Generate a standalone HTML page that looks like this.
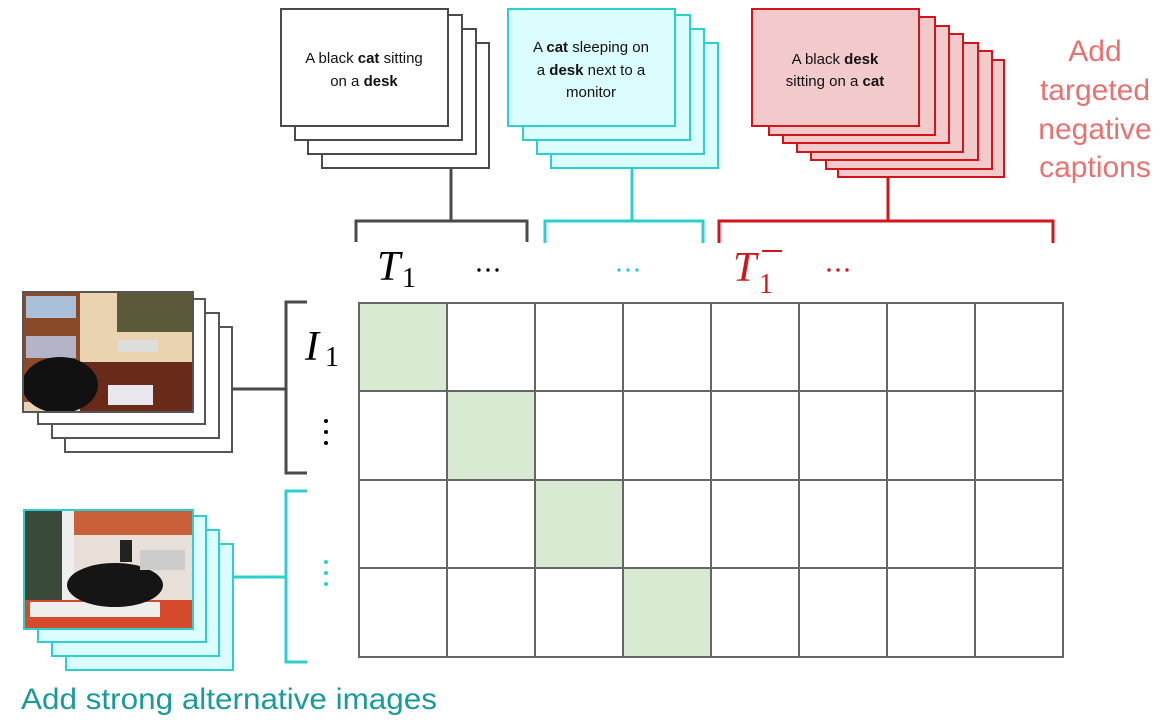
<!DOCTYPE html>
<html><head><meta charset="utf-8"><style>
html,body{margin:0;padding:0;background:#fff;}
svg{display:block;}
text{font-family:"Liberation Sans",sans-serif;}
.m{font-family:"Liberation Serif",serif;font-style:italic;}
.n{font-family:"Liberation Serif",serif;}
</style></head><body>
<svg width="1172" height="727" viewBox="0 0 1172 727" xmlns="http://www.w3.org/2000/svg">
<g fill="#fff" stroke="#4a4a4a" stroke-width="2">
<rect x="322" y="43" width="167" height="125"/>
<rect x="308" y="29" width="168" height="125"/>
<rect x="295" y="15" width="167" height="125"/>
<rect x="281" y="9" width="167" height="117"/>
</g>
<text x="364" y="63" font-size="15" text-anchor="middle" fill="#111">A black <tspan font-weight="bold">cat</tspan> sitting</text>
<text x="364" y="86" font-size="15" text-anchor="middle" fill="#111">on a <tspan font-weight="bold">desk</tspan></text>
<path d="M451 168V220M356 242V221H527V242" fill="none" stroke="#4a4a4a" stroke-width="3"/>
<g fill="#dcfdfd" stroke="#2ccfcf" stroke-width="2">
<rect x="551" y="43" width="167" height="125"/>
<rect x="537" y="29" width="167" height="125"/>
<rect x="523" y="15" width="167" height="125"/>
<rect x="508" y="9" width="167" height="117"/>
</g>
<text x="591" y="52" font-size="15" text-anchor="middle" fill="#111">A <tspan font-weight="bold">cat</tspan> sleeping on</text>
<text x="591" y="75" font-size="15" text-anchor="middle" fill="#111">a <tspan font-weight="bold">desk</tspan> next to a</text>
<text x="591" y="97" font-size="15" text-anchor="middle" fill="#111">monitor</text>
<path d="M632 168V220M545 243V221H703V243" fill="none" stroke="#2ccfcf" stroke-width="3"/>
<g fill="#f3cacb" stroke="#d0161b" stroke-width="2">
<rect x="838" y="60" width="166" height="117"/>
<rect x="826" y="51" width="166" height="118"/>
<rect x="811" y="43" width="167" height="117"/>
<rect x="797" y="34" width="166" height="118"/>
<rect x="783" y="26" width="166" height="117"/>
<rect x="769" y="17" width="166" height="118"/>
<rect x="752" y="9" width="167" height="117"/>
</g>
<text x="835" y="64" font-size="15" text-anchor="middle" fill="#111">A black <tspan font-weight="bold">desk</tspan></text>
<text x="835" y="86" font-size="15" text-anchor="middle" fill="#111">sitting on a <tspan font-weight="bold">cat</tspan></text>
<path d="M888 177V220M719 243V221H1053V243" fill="none" stroke="#d0161b" stroke-width="3"/>
<g font-size="30" fill="#e87272" text-anchor="middle">
<text x="1095" y="61">Add</text>
<text x="1095" y="100">targeted</text>
<text x="1095" y="139">negative</text>
<text x="1095" y="177">captions</text>
</g>
<text class="m" x="377" y="280" font-size="42" fill="#000">T</text>
<text class="n" x="402" y="287" font-size="28" fill="#000">1</text>
<g fill="#000"><circle cx="479" cy="270" r="1.7"/><circle cx="488" cy="270" r="1.7"/><circle cx="497" cy="270" r="1.7"/></g>
<g fill="#2ccfcf"><circle cx="619" cy="270" r="1.7"/><circle cx="628" cy="270" r="1.7"/><circle cx="637" cy="270" r="1.7"/></g>
<g fill="#d0161b"><circle cx="829" cy="270" r="1.7"/><circle cx="838" cy="270" r="1.7"/><circle cx="847" cy="270" r="1.7"/></g>
<text class="m" x="733" y="281" font-size="42" fill="#d0161b">T</text>
<text class="n" x="759" y="293" font-size="28" fill="#d0161b">1</text>
<rect x="762" y="250" width="20" height="2" fill="#d0161b"/>
<text class="m" x="305" y="360" font-size="42" fill="#000">I</text>
<text class="n" x="325" y="366" font-size="28" fill="#000">1</text>
<g fill="#000"><circle cx="326" cy="421" r="2"/><circle cx="326" cy="432" r="2"/><circle cx="326" cy="443" r="2"/></g>
<g fill="#2ccfcf"><circle cx="326" cy="562" r="2"/><circle cx="326" cy="573" r="2"/><circle cx="326" cy="584" r="2"/></g>
<g fill="#d9ead3">
<rect x="359" y="303" width="88" height="88"/>
<rect x="447" y="391" width="88" height="89"/>
<rect x="535" y="480" width="88" height="88"/>
<rect x="623" y="568" width="88" height="89"/>
</g>
<g stroke="#666" stroke-width="2" fill="none">
<rect x="359" y="303" width="704" height="354"/>
<path d="M447 303V657M535 303V657M623 303V657M711 303V657M799 303V657M887 303V657M975 303V657M359 391H1063M359 480H1063M359 568H1063"/>
</g>
<g fill="#fff" stroke="#555" stroke-width="2">
<rect x="65" y="327" width="167" height="125"/>
<rect x="52" y="313" width="167" height="125"/>
<rect x="38" y="299" width="167" height="125"/>
</g>
<g>
<rect x="23" y="292" width="170" height="120" fill="#e9d3b0"/>
<rect x="23" y="292" width="57" height="110" fill="#8a4a2a"/>
<rect x="26" y="296" width="50" height="22" fill="#a9c0d8"/>
<rect x="26" y="336" width="50" height="22" fill="#b4b4c8"/>
<rect x="117" y="292" width="76" height="40" fill="#5a5a3a"/>
<rect x="80" y="362" width="113" height="50" fill="#6a2a1a"/>
<rect x="108" y="385" width="45" height="20" fill="#e8e8ee"/>
<ellipse cx="60" cy="385" rx="38" ry="28" fill="#111"/>
<rect x="118" y="340" width="40" height="12" fill="#ddd"/>
<rect x="23" y="292" width="170" height="120" fill="none" stroke="#555" stroke-width="2"/>
</g>
<path d="M232 389H286M307 302H286V473H307" fill="none" stroke="#4a4a4a" stroke-width="3"/>
<g fill="#dcfdfd" stroke="#2ccfcf" stroke-width="2">
<rect x="66" y="544" width="167" height="126"/>
<rect x="52" y="530" width="167" height="126"/>
<rect x="38" y="516" width="168" height="126"/>
</g>
<g>
<rect x="24" y="510" width="169" height="119" fill="#e8e0d8"/>
<rect x="24" y="510" width="169" height="25" fill="#c9603a"/>
<rect x="24" y="510" width="50" height="95" fill="#3a4a3a"/>
<rect x="62" y="510" width="12" height="100" fill="#eee"/>
<rect x="24" y="600" width="169" height="29" fill="#d54a2a"/>
<rect x="30" y="602" width="130" height="15" fill="#eee"/>
<ellipse cx="115" cy="585" rx="48" ry="22" fill="#151515"/>
<rect x="120" y="540" width="12" height="22" fill="#222"/>
<rect x="140" y="550" width="45" height="20" fill="#ccc"/>
<rect x="24" y="510" width="169" height="119" fill="none" stroke="#2ccfcf" stroke-width="2"/>
</g>
<path d="M233 577H286M307 491H286V662H307" fill="none" stroke="#2ccfcf" stroke-width="3"/>
<text x="21" y="709" font-size="30" fill="#1a9a9a" textLength="416" lengthAdjust="spacingAndGlyphs">Add strong alternative images</text>
</svg>
</body></html>
